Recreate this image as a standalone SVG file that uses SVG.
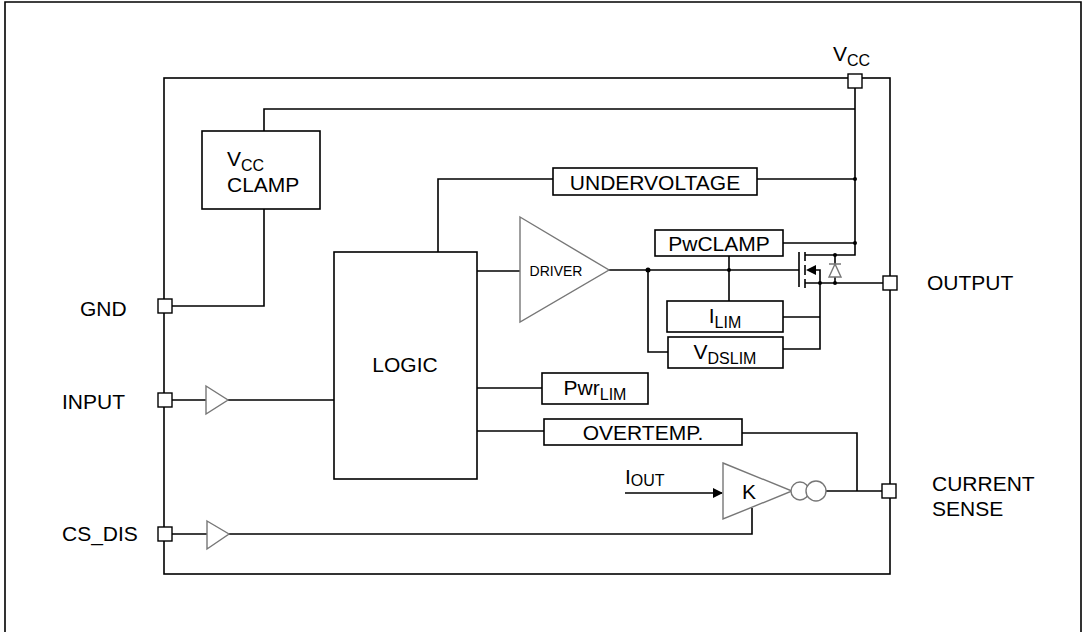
<svg xmlns="http://www.w3.org/2000/svg" width="1084" height="632" viewBox="0 0 1084 632">
<style>
.w{fill:none;stroke:#000;stroke-width:1.6}
.b{fill:#fff;stroke:#000;stroke-width:1.6}
.g{fill:#fff;stroke:#777;stroke-width:1.4}
.pin{fill:#fff;stroke:#000;stroke-width:1.4}
.t{font-family:"Liberation Sans",Arial,sans-serif;font-size:21px;fill:#000}
.s{font-size:16px}
.d{fill:#000}
</style>
<defs>
<marker id="arr" markerWidth="10" markerHeight="10" refX="9" refY="5" orient="auto" markerUnits="userSpaceOnUse"><path d="M0,0 L10,5 L0,10 z" fill="#000"/></marker>
</defs>
<g id="frame"><path class="w" d="M5,632 V2 H1081 V632"/></g>
<g id="chip"><rect class="w" x="164" y="78" width="726" height="496"/></g>
<g id="connectors">
<path class="w" d="M855,88 V255 H805"/>
<path class="w" d="M264,131 V109 H855"/>
<path class="w" d="M264,209 V306 H172"/>
<path class="w" d="M757,179 H855"/>
<path class="w" d="M553,179 H438 V252"/>
<path class="w" d="M783,243 H855"/>
<path class="w" d="M477,271 H520"/>
<path class="w" d="M609,270 H799"/>
<path class="w" d="M729,256 V301"/>
<path class="w" d="M648,270 V352 H668"/>
<path class="w" d="M783,317 H820"/>
<path class="w" d="M783,349 H820 V270 H815"/>
<path class="w" d="M805,283 H883"/>
<path class="w" d="M835,255 V264 M835,277 V283"/>
<path class="w" d="M477,388 H542"/>
<path class="w" d="M477,431 H544"/>
<path class="w" d="M742,433 H857 V491"/>
<path class="w" d="M826,491 H883"/>
<path class="w" d="M625,493 H722" marker-end="url(#arr)"/>
<path class="w" d="M172,400 H206 M228,400 H334"/>
<path class="w" d="M172,534 H207 M229,534 H752 V508"/>
<circle class="d" cx="855" cy="179" r="2"/>
<circle class="d" cx="855" cy="243" r="2"/>
<circle class="d" cx="648" cy="270" r="2.5"/>
<circle class="d" cx="729" cy="270" r="2"/>
<circle class="d" cx="820" cy="283" r="2"/>
<circle class="d" cx="835" cy="283" r="2"/>
<circle class="d" cx="835" cy="255" r="2"/>
</g>
<g id="mosfet">
<path class="w" d="M799,252 V287 M805,252 V261 M805,265 V275 M805,279 V288"/>
<path d="M806,270 L816,265 L816,275 z" fill="#000"/>
<path class="g" d="M829,264 H841 M835,264 L829,277 H841 z"/>
</g>
<g id="vcc-clamp"><rect class="b" x="202" y="131" width="118" height="78"/>
<text class="t" x="227" y="166">V<tspan class="s" dy="5">CC</tspan></text>
<text class="t" x="227" y="192">CLAMP</text></g>
<g id="undervoltage"><rect class="b" x="553" y="168" width="204" height="27"/><text class="t" x="655" y="190" text-anchor="middle">UNDERVOLTAGE</text></g>
<g id="logic"><rect class="b" x="334" y="252" width="143" height="227"/><text class="t" x="405" y="372" text-anchor="middle">LOGIC</text></g>
<g id="driver"><path class="g" d="M520,217 L609,270 L520,322 z"/><text class="t" x="556" y="276" text-anchor="middle" style="font-size:14px">DRIVER</text></g>
<g id="pwclamp"><rect class="b" x="655" y="230" width="128" height="26"/><text class="t" x="719" y="251" text-anchor="middle">PwCLAMP</text></g>
<g id="ilim"><rect class="b" x="667" y="301" width="116" height="31"/><text class="t" x="725" y="323" text-anchor="middle">I<tspan class="s" dy="5">LIM</tspan></text></g>
<g id="vdslim"><rect class="b" x="668" y="337" width="115" height="31"/><text class="t" x="725" y="359" text-anchor="middle">V<tspan class="s" dy="5">DSLIM</tspan></text></g>
<g id="pwrlim"><rect class="b" x="542" y="373" width="106" height="31"/><text class="t" x="595" y="395" text-anchor="middle">Pwr<tspan class="s" dy="5">LIM</tspan></text></g>
<g id="overtemp"><rect class="b" x="544" y="419" width="198" height="26"/><text class="t" x="643" y="440" text-anchor="middle">OVERTEMP.</text></g>
<g id="k-amp"><path class="g" d="M723,463 L792,491 L723,519 z"/><text class="t" x="749" y="499" text-anchor="middle">K</text>
<circle class="g" cx="800" cy="491" r="9"/><circle class="g" cx="816" cy="491" r="10"/></g>
<g id="iout"><text class="t" x="625" y="484">I<tspan class="s" dy="2">OUT</tspan></text></g>
<g id="in-buf"><path class="g" d="M206,386 L228,400 L206,414 z"/></g>
<g id="cs-buf"><path class="g" d="M207,521 L229,534 L207,549 z"/></g>
<g id="pin-vcc"><rect class="pin" x="848" y="74" width="14" height="14"/><text class="t" x="833" y="61">V<tspan class="s" dy="5">CC</tspan></text></g>
<g id="pin-gnd"><rect class="pin" x="158" y="299" width="14" height="14"/><text class="t" x="80" y="316">GND</text></g>
<g id="pin-input"><rect class="pin" x="158" y="393" width="14" height="14"/><text class="t" x="62" y="409">INPUT</text></g>
<g id="pin-csdis"><rect class="pin" x="158" y="527" width="14" height="14"/><text class="t" x="62" y="541">CS_DIS</text></g>
<g id="pin-output"><rect class="pin" x="883" y="276" width="14" height="14"/><text class="t" x="927" y="290">OUTPUT</text></g>
<g id="pin-cs"><rect class="pin" x="882" y="484" width="14" height="14"/><text class="t" x="932" y="491">CURRENT</text><text class="t" x="932" y="516">SENSE</text></g>
</svg>
